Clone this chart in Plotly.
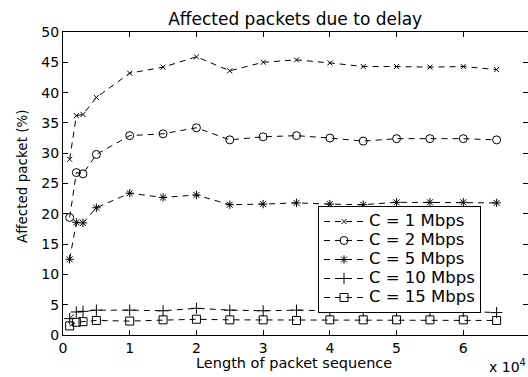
import plotly.graph_objects as go

# Sequence lengths (units of 10^4 packets)
seq_len = [0.1, 0.2, 0.3, 0.5, 1, 1.5, 2, 2.5, 3, 3.5, 4, 4.5, 5, 5.5, 6, 6.5]

# Percentage of affected packets per link capacity
c1 = [29.0, 36.2, 36.4, 39.2, 43.2, 44.2, 45.9, 43.6, 45.0, 45.4, 44.9, 44.3, 44.3, 44.2, 44.3, 43.8]
c2 = [19.4, 26.8, 26.6, 29.8, 32.9, 33.2, 34.2, 32.2, 32.7, 32.9, 32.5, 32.0, 32.4, 32.4, 32.4, 32.2]
c5 = [12.5, 18.6, 18.5, 21.0, 23.4, 22.7, 23.1, 21.5, 21.6, 21.8, 21.6, 21.5, 21.9, 21.9, 21.9, 21.8]
c10 = [2.7, 3.8, 3.9, 4.1, 4.1, 4.0, 4.4, 4.1, 4.0, 4.1, 4.0, 4.0, 4.0, 4.0, 3.9, 3.7]
c15 = [1.5, 2.1, 2.2, 2.4, 2.3, 2.5, 2.6, 2.5, 2.5, 2.4, 2.5, 2.5, 2.5, 2.5, 2.5, 2.4]

x_ticks = [0, 1, 2, 3, 4, 5, 6]

series = [
    ("C = 1 Mbps", c1, "x-thin-open", 5),
    ("C = 2 Mbps", c2, "circle-open", 8),
    ("C = 5 Mbps", c5, "asterisk-open", 7),
    ("C = 10 Mbps", c10, "cross-thin-open", 8),
    ("C = 15 Mbps", c15, "square-open", 8),
]

FAMILY = "DejaVu Sans, Arial, sans-serif"

fig = go.Figure()
for name, vals, sym, size in series:
    fig.add_trace(go.Scatter(
        x=seq_len, y=vals, mode="lines+markers",
        # larger label text inside a compact legend row
        name=f'<span style="font-size:16.5px">{name}</span>',
        line=dict(color="black", width=1, dash="6px,5px"),
        marker=dict(symbol=sym, size=size, color="black",
                    line=dict(color="black", width=1)),
    ))

fig.update_layout(
    width=528, height=377,
    margin=dict(l=63, r=0, t=32, b=42),
    paper_bgcolor="white", plot_bgcolor="white",
    font=dict(family=FAMILY, size=14, color="black"),
    showlegend=True,
    title=dict(text="Affected packets due to delay", x=0.559, xanchor="center",
               y=1 - 19 / 377, yanchor="middle",
               font=dict(family=FAMILY, size=17, color="black")),
    legend=dict(x=(318 - 63) / 465, y=1 - (206 - 32) / 303,
                xanchor="left", yanchor="top",
                bordercolor="black", borderwidth=1, bgcolor="white",
                font=dict(family=FAMILY, size=12, color="black"),
                tracegroupgap=0, itemwidth=40),
    xaxis=dict(range=[0, 6.97], tickvals=x_ticks,
               ticks="inside", ticklen=5, tickcolor="black",
               tickfont=dict(size=14),
               showline=True, linecolor="black", linewidth=1, mirror="ticks",
               showgrid=False, zeroline=False),
    yaxis=dict(range=[0, 50], dtick=5,
               ticks="inside", ticklen=5, tickcolor="black",
               tickfont=dict(size=14),
               showline=True, linecolor="black", linewidth=1, mirror="ticks",
               showgrid=False, zeroline=False),
)

# Axis titles and the x-axis exponent note
fig.add_annotation(text="Length of packet sequence", xref="paper", yref="paper",
                   x=(294 - 63) / 465, y=(335 - 363) / 303,
                   xanchor="center", yanchor="middle", showarrow=False,
                   font=dict(family=FAMILY, size=14.5))
fig.add_annotation(text="Affected packet (%)", xref="paper", yref="paper",
                   x=(22 - 63) / 465, y=(335 - 176) / 303, textangle=-90,
                   xanchor="center", yanchor="middle", showarrow=False,
                   font=dict(family=FAMILY, size=13.5))
fig.add_annotation(text="x 10<sup>4</sup>", xref="paper", yref="paper",
                   x=1.0, y=(335 - 366) / 303, xanchor="right", yanchor="middle",
                   showarrow=False, font=dict(family=FAMILY, size=14))

fig.write_html("out.html")
